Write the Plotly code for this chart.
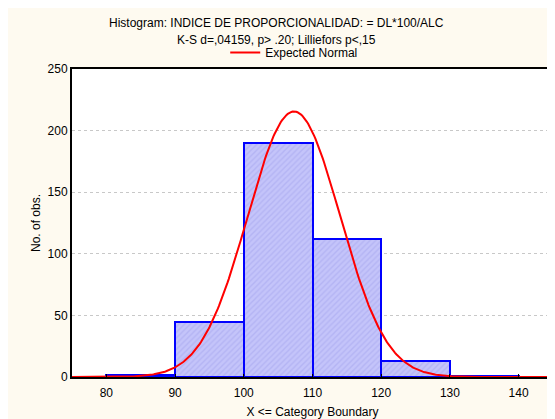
import numpy as np
import plotly.graph_objects as go

bin_lefts = [80, 90, 100, 110, 120, 130]
bin_width = 10
counts = [2, 45, 190, 112, 13, 1]
x_ticks = [80, 90, 100, 110, 120, 130, 140]
y_ticks = [0, 50, 100, 150, 200, 250]
norm_mean = 107.3
norm_sd = 6.72
title_line1 = "Histogram: INDICE DE PROPORCIONALIDAD: = DL*100/ALC"
title_line2 = "K-S d=,04159, p> .20; Lilliefors p<,15"

n_total = sum(counts)
mids = [b + bin_width / 2 for b in bin_lefts]

xs = np.linspace(75, 145, 400)
ys = n_total * bin_width / (norm_sd * np.sqrt(2 * np.pi)) * np.exp(-0.5 * ((xs - norm_mean) / norm_sd) ** 2)

fig = go.Figure()
fig.add_trace(go.Bar(
    x=mids, y=counts, width=bin_width, showlegend=False,
    marker=dict(color="#BFBFF8",
                line=dict(color="#0000FF", width=2),
                pattern=dict(shape="/", fgcolor="#A4A4EE", bgcolor="#C4C4FA", size=4, solidity=0.35)),
))
fig.add_trace(go.Scatter(
    x=xs, y=ys, mode="lines", name="Expected Normal",
    line=dict(color="#FF0000", width=2),
))

fig.update_layout(
    width=555, height=419,
    margin=dict(l=64, r=8, t=61, b=50),
    paper_bgcolor="#FEFAF0",
    plot_bgcolor="#FFFFFF",
    font=dict(family="Liberation Sans, Arial, sans-serif", size=11, color="#000000"),
    legend=dict(orientation="h", x=0.462, xanchor="center", y=1.0065, yanchor="bottom",
                bgcolor="rgba(0,0,0,0)", font=dict(size=12), itemwidth=30),
    annotations=[
        dict(text=title_line1, xref="paper", yref="paper", x=0.425, y=1.0, yshift=46,
             showarrow=False, font=dict(size=12), xanchor="center", yanchor="middle"),
        dict(text=title_line2, xref="paper", yref="paper", x=0.425, y=1.0, yshift=29,
             showarrow=False, font=dict(size=12), xanchor="center", yanchor="middle"),
    ],
    bargap=0,
)
fig.update_xaxes(range=[75, 145], tickvals=x_ticks, showgrid=False, zeroline=False,
                 showline=True, linecolor="#000000", linewidth=2, mirror=True,
                 ticks="inside", ticklen=3, tickcolor="#000000", ticklabelstandoff=4,
                 tickfont=dict(size=12),
                 title=dict(text="X <= Category Boundary", font=dict(size=12), standoff=8))
fig.update_yaxes(range=[0, 250], tickvals=y_ticks, showgrid=True, gridcolor="#C8C8C8",
                 griddash="dot", gridwidth=1, zeroline=False,
                 showline=True, linecolor="#000000", linewidth=2, mirror=True,
                 ticks="", ticklabelstandoff=0, tickfont=dict(size=12),
                 title=dict(text="No. of obs.", font=dict(size=12), standoff=4))

fig.write_html("out.html")
